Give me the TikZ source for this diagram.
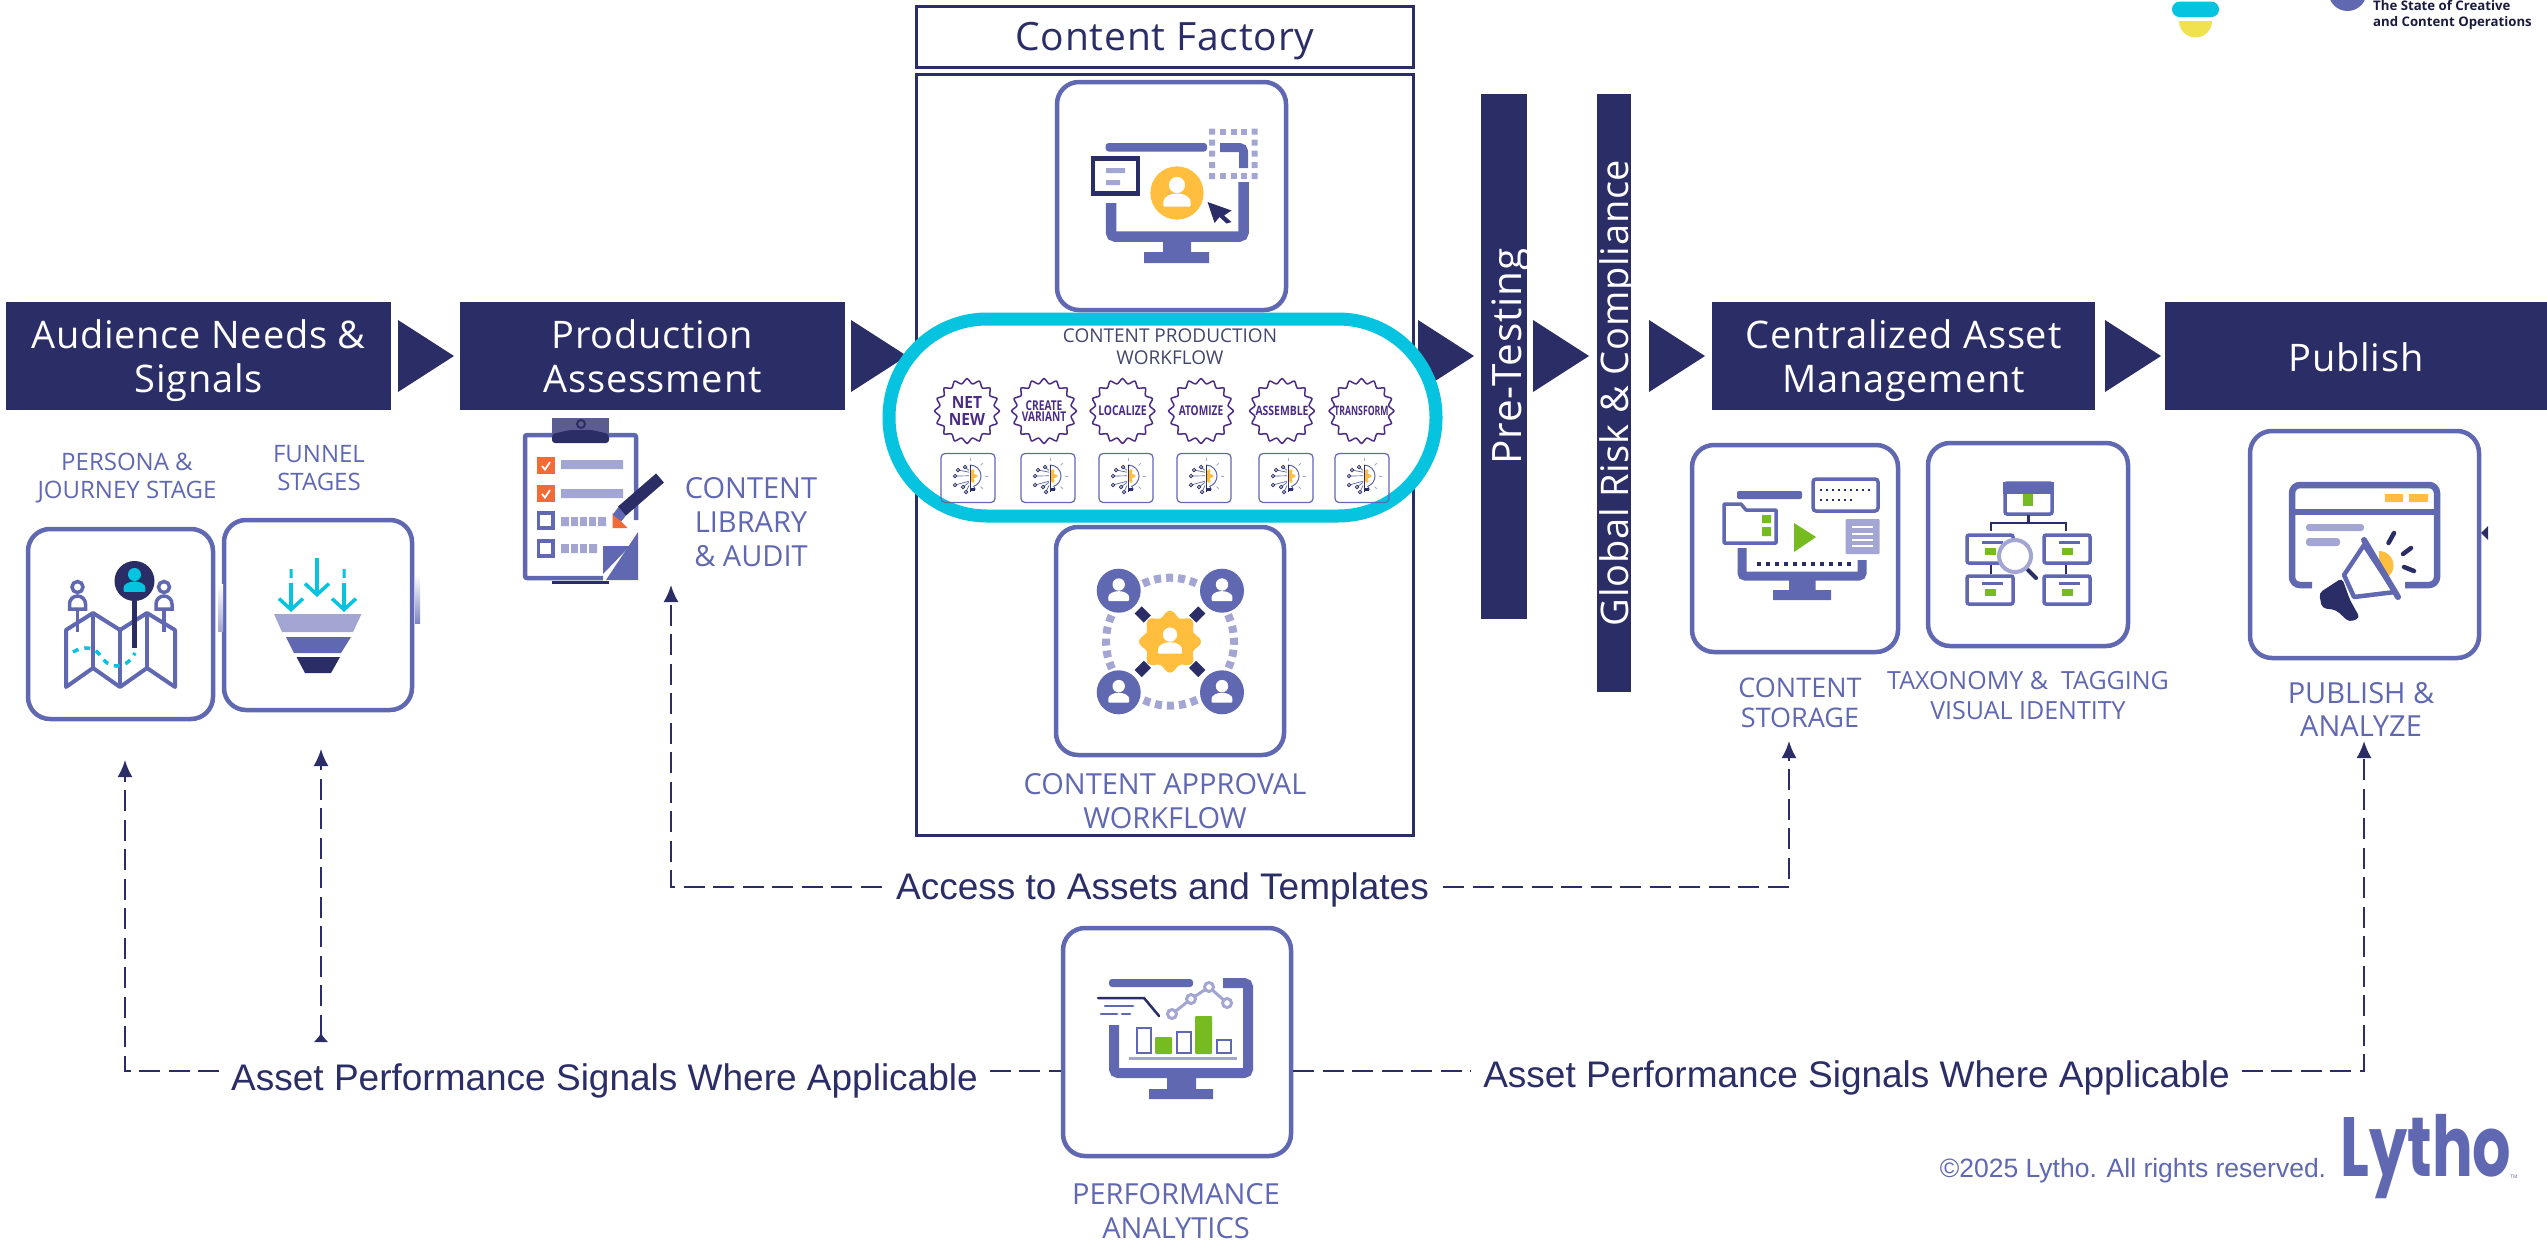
\documentclass[tikz,border=0pt]{standalone}
\usepackage{fontspec}
\usepackage{tikz}
\usetikzlibrary{arrows.meta}
\setmainfont{Open Sans}
\newfontfamily\workfont{Open Sans}[LetterSpace=2]
\newfontfamily\arialfont{Liberation Sans}
\newfontfamily\logofont{Poppins}

\definecolor{navybar}{HTML}{2B2D66}
\definecolor{indigoline}{HTML}{6068B2}
\definecolor{lightline}{HTML}{A3A6D3}
\definecolor{cyanring}{HTML}{06C3DF}
\definecolor{goldfill}{HTML}{FFBE3D}
\definecolor{greenfill}{HTML}{76BC21}
\definecolor{orangefill}{HTML}{F26A36}
\definecolor{yellowfill}{HTML}{F0E14E}
\definecolor{badgeink}{HTML}{4A2C86}

\tikzset{
  stagebox/.style={fill=navybar,text=white,inner sep=0,align=center,font=\workfont\fontsize{38}{44}\selectfont},
  twoline/.style={text height=76pt,text depth=4pt},
  oneline/.style={text height=30pt,text depth=0pt},
  iconbox/.style={draw=indigoline,line width=4.5,rounded corners=22,inner sep=0},
  framebox/.style={draw=navybar,line width=2.5,inner sep=0},
  iconlabel/.style 2 args={text=indigoline,inner sep=0,align=center,font=\fontsize{#1}{#2}\selectfont},
  signaltext/.style={text=navybar,inner sep=0,text height=30pt,text depth=4pt,font=\arialfont\fontsize{37}{44}\selectfont},
  flowdash/.style={draw=navybar,line width=2,dash pattern=on 21 off 8.5},
  flowtip/.style={-{Latex[length=17,width=15]}},
  badgetext/.style 2 args={text=badgeink,inner sep=0,align=center,transform shape,font=\bfseries\fontsize{#1}{#2}\selectfont},
  minibox/.style={draw=indigoline,line width=1.2,rounded corners=4,minimum width=54,minimum height=49,inner sep=0},
}

% person on a disc
\newcommand{\userglyph}[4]{
  \begin{scope}[shift={(#1,#2)},scale=#3]
    \fill[#4] (0,-.31) circle (.31);
    \fill[#4,rounded corners=1] (-.52,.52) -- (-.52,.36) arc[start angle=180,end angle=360,x radius=.52,y radius=.34] -- (.52,.52) -- cycle;
  \end{scope}
}
% lightbulb with circuit dots
\newcommand{\bulbglyph}[2]{
  \begin{scope}[shift={(#1,#2)}]
    \fill[goldfill] plot[smooth,domain=-90:90,samples=25,variable=\t] ({(6+1.6*cos(6*\t))*cos(\t)+2},{(6+1.6*cos(6*\t))*sin(\t)-2});
    \draw[indigoline,line width=1] (2,-13) arc[start angle=-90,end angle=70,radius=11] -- (7,11) -- (2,11);
    \draw[navybar,line width=1] (2,-13) -- (2,14);
    \fill[navybar] (2,10) rectangle (7,13);
    \foreach \dx/\dy in {-3/-11,-10/-8,-13/-2,-13/7,-5/9,-2/14} {
      \draw[indigoline,line width=.7] (\dx,\dy) -- (1,{\dy*.6-1});
      \draw[navybar,line width=.8,fill=white] (\dx,\dy) circle (1.7);
    }
    \foreach \a in {-90,-45,0,45} \draw[lightline,line width=1] ({2+15*cos(\a)},{-2+15*sin(\a)}) -- ({2+18*cos(\a)},{-2+18*sin(\a)});
  \end{scope}
}

\begin{document}
\begin{tikzpicture}[x=1pt,y=-1pt]
    \path[use as bounding box,fill=white] (0,0) rectangle (2547,1242);

    % draw stage bars
    \node[stagebox,twoline,minimum width=385,minimum height=108] (audience) at (198.5,356) {Audience Needs \&\\Signals};
    \node[stagebox,twoline,minimum width=385,minimum height=108] (production) at (652.5,356) {Production\\Assessment};
    \node[stagebox,twoline,minimum width=383,minimum height=108] (central) at (1903.5,356) {Centralized Asset\\Management};
    \node[stagebox,oneline,minimum width=382,minimum height=108] (publish) at (2356,356) {Publish};
    \node[stagebox,rotate=90,text height=34pt,text depth=0pt,minimum width=525,minimum height=46,font=\workfont\fontsize{40.5}{44}\selectfont] (pretest) at (1504,356.5) {Pre-Testing};
    \node[stagebox,rotate=90,text height=29pt,text depth=0pt,minimum width=598,minimum height=34] (globalrisk) at (1614,393) {Global Risk \& Compliance};

    % draw stage arrows
    \foreach \x in {398,851,1418,1533,1649,2105}
      \fill[navybar] (\x,320) -- (\x+56,356) -- (\x,392) -- cycle;

    % draw content factory frames
    \node[framebox,minimum width=497,minimum height=61,text=navybar,text height=30pt,text depth=4pt,font=\workfont\fontsize{39}{44}\selectfont] (factory) at (1165,37) {Content Factory};
    \node[framebox,minimum width=497,minimum height=761] (frame) at (1165,455) {};

    % draw workflow ring
    \draw[cyanring,line width=13,fill=white,rounded corners=98] (889,319) rectangle (1436,516);
    \node[text=navybar!70!gray,inner sep=0,align=center,font=\fontsize{19}{22}\selectfont] (workflow) at (1170,347) {CONTENT PRODUCTION\\WORKFLOW};

    % draw badges and small bulb boxes
    \foreach \i/\bx/\mx/\bsize/\bskip/\bscale/\btext in {1/967/968/16.8/17/.92/{NET\\NEW},2/1044/1048/13.5/11.5/.75/{CREATE\\VARIANT},3/1122.5/1126/13.5/14/.76/LOCALIZE,4/1201/1204/13.5/14/.75/ATOMIZE,5/1282/1286/13/14/.8/ASSEMBLE,6/1361.5/1362/13/14/.67/TRANSFORM} {
      \draw[badgeink,line width=1.5,shift={(\bx,411)}] plot[smooth cycle,domain=0:348.75,samples=32,variable=\t] ({(30+2.4*cos(16*\t))*cos(\t)},{(30+2.4*cos(16*\t))*sin(\t)});
      \begin{scope}[shift={(\bx,411)},xscale=\bscale]
        \node[badgetext={\bsize}{\bskip}] (badge\i) at (0,0) {\btext};
      \end{scope}
      \node[minibox] (mini\i) at (\mx,478) {};
      \bulbglyph{\mx}{478}
    }

    % draw icon boxes
    \node[iconbox,minimum width=185,minimum height=190] (personabox) at (120.5,624) {};
    \node[iconbox,minimum width=188,minimum height=190] (funnelbox) at (318,615) {};
    \node[iconbox,minimum width=229,minimum height=228] (createbox) at (1171.5,196) {};
    \node[iconbox,minimum width=228,minimum height=228] (approvalbox) at (1170,641) {};
    \node[iconbox,minimum width=228,minimum height=228] (analyticsbox) at (1177,1042) {};
    \node[iconbox,minimum width=206,minimum height=207] (storagebox) at (1795,548.5) {};
    \node[iconbox,minimum width=200,minimum height=203] (taxonomybox) at (2028,544.5) {};
    \node[iconbox,minimum width=229,minimum height=227] (publishbox) at (2364.5,544.5) {};
    \shade[top color=white,bottom color=lightline] (218,584) rectangle (223,631);
    \shade[top color=white,bottom color=indigoline!80] (415,575) rectangle (420,623);
    \fill[navybar] (2488,526) -- (2481,533) -- (2488,540) -- cycle;

    % draw labels
    \node[iconlabel={24}{28}] (personalabel) at (127,478) {PERSONA \&\\JOURNEY STAGE};
    \node[iconlabel={24}{28}] (funnellabel) at (319,468) {FUNNEL\\STAGES};
    \node[iconlabel={29}{34}] (librarylabel) at (751,522) {CONTENT\\LIBRARY\\\& AUDIT};
    \node[iconlabel={29}{34}] (approvallabel) at (1165,801) {CONTENT APPROVAL\\WORKFLOW};
    \node[iconlabel={29}{34}] (analyticslabel) at (1176,1211) {PERFORMANCE\\ANALYTICS};
    \node[iconlabel={27}{30}] (storagelabel) at (1800,703) {CONTENT\\STORAGE};
    \node[iconlabel={25}{30}] (taxonomylabel) at (2028,696) {TAXONOMY \&\ \ TAGGING\\VISUAL IDENTITY};
    \node[iconlabel={29}{33}] (publishlabel) at (2361,709) {PUBLISH \&\\ANALYZE};

    % draw persona map icon
    \draw[indigoline,line width=4,line join=round] (66,630) -- (93,613) -- (120,630) -- (147,613) -- (175,630) -- (175,687) -- (147,668) -- (120,687) -- (93,668) -- (66,687) -- cycle;
    \draw[indigoline,line width=4] (93,613) -- (93,668) (120,630) -- (120,687) (147,613) -- (147,668);
    \draw[cyanring,line width=3.5,dash pattern=on 6 off 6] (73,652) .. controls (85,645) and (95,648) .. (100,655) .. controls (107,668) and (125,672) .. (135,653);
    \draw[navybar,line width=5] (134.5,590) -- (134.5,648);
    \fill[navybar] (134.5,581) circle (20);
    \userglyph{134.5}{581}{21}{cyanring}
    \foreach \x in {77.5,164} {
      \draw[indigoline,line width=3.5] (\x,587) circle (5.5);
      \draw[indigoline,line width=3.5] (\x-8,609) -- (\x-8,604) arc[start angle=180,end angle=360,radius=8] -- (\x+8,609) -- cycle;
      \draw[indigoline,line width=3.5] (\x,609) -- (\x,632);
    }

    % draw funnel icon
    \foreach \x/\a/\b in {291/583/612,317/558/597,344/583/612}
      \draw[cyanring,line width=3.5,-{Straight Barb[length=11,width=24]}] (\x,\a) -- (\x,\b);
    \fill[cyanring] (289.5,569) rectangle (292.5,578) (342.5,569) rectangle (345.5,578);
    \fill[lightline] (274,614) -- (361.5,614) -- (353,632) -- (282,632) -- cycle;
    \fill[indigoline] (286,637) -- (351,637) -- (341,653) -- (294,653) -- cycle;
    \fill[navybar] (296.5,657) -- (340,657) -- (331,673) -- (305,673) -- cycle;

    % draw clipboard icon
    \draw[indigoline,line width=4.5,rounded corners=2] (552,435) -- (525,435) -- (525,578) -- (603,578);
    \draw[indigoline,line width=4.5,rounded corners=2] (609,435) -- (636,435) -- (636,520);
    \fill[navybar!60!lightline] (552,418) rectangle (609,436);
    \fill[navybar,rounded corners=3] (552,443) -- (552,434) -- (570,430) -- (592,430) -- (609,434) -- (609,443) -- cycle;
    \draw[navybar,line width=2] (581,424) circle (4);
    \fill[navybar] (552,581) rectangle (609,584);
    \foreach \y in {457,485}
      \fill[orangefill] (537,\y) rectangle (554.5,\y+17);
    \foreach \y in {457,485}
      \draw[white,line width=1.8] (542,\y+9) -- (545,\y+12.5) -- (550,\y+5);
    \foreach \y in {513,541}
      \draw[indigoline,line width=3.5] (538.5,\y) rectangle (553,\y+15);
    \fill[lightline] (561,460) rectangle (623,469) (561,489) rectangle (623,498);
    \fill[lightline] (561,517) rectangle (606,526) (561,544) rectangle (597,553);
    \foreach \x in {569,578,587,596}
      \fill[white] (\x,517) rectangle (\x+1.5,526);
    \foreach \x in {569,578,587}
      \fill[white] (\x,544) rectangle (\x+1.5,553);
    \fill[indigoline] (603,546) -- (630,546) -- (603,574) -- cycle;
    \fill[indigoline] (638,532) -- (638,580) -- (606,580) -- cycle;
    \fill[orangefill] (612.5,513) -- (627.5,528) -- (612.5,528) -- cycle;
    \draw[indigoline,line width=11] (617,518) -- (624,509);
    \draw[navybar,line width=12,line join=round] (622,511) -- (660,478);

    % draw create icon
    \fill[indigoline,rounded corners=3] (1105.7,143) rectangle (1207,151.5);
    \draw[indigoline,line width=10.5,rounded corners=4] (1111,203) -- (1111,236.5) -- (1243.5,236.5) -- (1243.5,182);
    \draw[indigoline,line width=9,rounded corners=4] (1220,147.5) -- (1243.5,147.5) -- (1243.5,168);
    \fill[indigoline] (1163,240) rectangle (1191,252) (1144,252) rectangle (1209,263);
    \foreach \y in {131.5,142.5,153.5,165,176}
      \fill[lightline] (1209,\y-3) rectangle (1215,\y+3) (1251.5,\y-3) rectangle (1257.5,\y+3);
    \foreach \x in {1223,1234,1244} \foreach \y in {131.5,176}
      \fill[lightline] (\x-3,\y-3) rectangle (\x+3,\y+3);
    \draw[navybar,line width=4.5,fill=white] (1093,158.5) rectangle (1138,193.5);
    \fill[lightline] (1106,168) rectangle (1125,173) (1106,180) rectangle (1120,185);
    \fill[goldfill] (1177,193) circle (26.6);
    \userglyph{1177}{193}{26}{white}
    \fill[navybar] (1207.5,202) -- (1231.5,210.5) -- (1224,215.5) -- (1231.5,222) -- (1226.5,223.5) -- (1219.5,217) -- (1214.5,223) -- cycle;

    % draw approval icon
    \foreach \a in {0,90,180,270}
      \draw[lightline,line width=8,dash pattern=on 7 off 5] (1170,641.7) ++(\a-25:64) arc[start angle=\a-25,end angle=\a+25,radius=64];
    \foreach \a in {45,135,225,315}
      \draw[navybar,line width=10] (1170,641.7) ++(\a:32) -- ++(\a:13);
    \foreach \x in {1118.7,1222} \foreach \y in {590.7,692.3} {
      \fill[indigoline] (\x,\y) circle (22);
      \userglyph{\x}{\y}{20}{white}
    }
    \fill[goldfill,shift={(1170,641.7)}] plot[smooth cycle,domain=0:352.5,samples=48,variable=\t] ({(28+3*cos(8*\t))*cos(\t)},{(28+3*cos(8*\t))*sin(\t)});
    \userglyph{1170}{641.7}{23}{white}

    % draw analytics icon
    \fill[indigoline,rounded corners=3] (1109,979) rectangle (1193,987);
    \draw[indigoline,line width=10,rounded corners=4] (1223,983) -- (1248,983) -- (1248,1073) -- (1114,1073) -- (1114,1025);
    \fill[indigoline] (1167,1077) rectangle (1196,1090) (1149,1089) rectangle (1213,1099);
    \draw[navybar,line width=2.5,line cap=round] (1098,998) -- (1144,998) -- (1159,1016);
    \draw[indigoline,line width=2.5,line cap=round] (1105,1006) -- (1133,1006) (1101,1014) -- (1117,1014) (1122,1014) -- (1130,1014);
    \draw[lightline,line width=3] (1172,1014) -- (1191,999) -- (1209,987) -- (1227,1003);
    \foreach \x/\y in {1172/1014,1191/999,1209/987,1227/1003}
      \draw[lightline,line width=3,fill=white] (\x,\y) circle (4.5);
    \foreach \xa/\xb/\y in {1136/1152/1028,1176/1192/1032,1216/1232/1040}
      \draw[indigoline,line width=2.5] (\xa+1,\y) rectangle (\xb-1,1053);
    \fill[greenfill,rounded corners=1] (1155,1037) rectangle (1172,1054) (1195,1016) rectangle (1212,1054);
    \fill[lightline] (1129,1056.5) rectangle (1237,1060);

    % draw storage icon
    \fill[indigoline,rounded corners=2] (1737,491) rectangle (1802,499);
    \draw[indigoline,line width=9,rounded corners=3] (1742,548) -- (1742,576) -- (1862,576) -- (1862,560);
    \fill[indigoline] (1789,580) rectangle (1815.5,591) (1773,590) rectangle (1831,600);
    \draw[indigoline,line width=3.5,line join=round] (1724,543) -- (1724,504) -- (1741,504) -- (1746,510) -- (1776,510) -- (1776,543) -- cycle;
    \fill[greenfill] (1762,515) rectangle (1771,523) (1762,527) rectangle (1771,536);
    \fill[greenfill] (1794,523) -- (1816,537) -- (1794,552) -- cycle;
    \draw[indigoline,line width=3.5,rounded corners=3,fill=white] (1813,479) rectangle (1878,511);
    \foreach \x in {1820,1826,...,1868}
      \fill[navybar] (\x,488.5) rectangle (\x+2,491);
    \foreach \x in {1820,1826,...,1850}
      \fill[navybar] (\x,498.5) rectangle (\x+2,501);
    \fill[lightline,rounded corners=1] (1845.5,519) rectangle (1879.5,554);
    \foreach \y in {527,533.5,540,546}
      \draw[white,line width=2] (1852,\y) -- (1873,\y);
    \foreach \x in {1757,1766,...,1850}
      \fill[navybar] (\x,561.5) rectangle (\x+4,565.5);

    % draw taxonomy icon
    \draw[indigoline,line width=3.5,rounded corners=2] (2005,483) rectangle (2052,514);
    \fill[indigoline] (2003,482) rectangle (2054,494);
    \fill[greenfill] (2023,494) rectangle (2033,506);
    \draw[navybar,line width=2.5] (2028.5,515) -- (2028.5,523) (1991,531) -- (1991,523) -- (2066,523) -- (2066,531);
    \draw[navybar,line width=2.5] (1991,564) -- (1991,574) (2066,564) -- (2066,574);
    \foreach \x in {1967,2044} \foreach \y in {535,576} {
      \draw[indigoline,line width=3.5,rounded corners=2] (\x,\y) rectangle (\x+46,\y+28);
      \fill[indigoline] (\x+15,\y+6) rectangle (\x+36,\y+8.5);
      \fill[greenfill] (\x+18,\y+13) rectangle (\x+29,\y+20);
    }
    \draw[navybar,line width=4,line cap=round] (2028,570) -- (2036,578);
    \draw[lightline,line width=4,fill=white] (2015,556) circle (16);

    % draw publish icon
    \draw[indigoline,line width=6.5,rounded corners=8] (2312,585) -- (2292,585) -- (2292,485) -- (2437,485) -- (2437,585) -- (2405,585);
    \draw[indigoline,line width=6.5] (2292,512) -- (2437,512);
    \fill[goldfill] (2385,494) rectangle (2403,502) (2409,494) rectangle (2428,502);
    \fill[lightline,rounded corners=3] (2306,524) rectangle (2364,531) (2306,538) rectangle (2340,546);
    \fill[goldfill] (2379,551) arc[start angle=-90,end angle=90,radius=14.5] -- cycle;
    \draw[indigoline,line width=4.5,line join=round,fill=white] (2364,545) -- (2344,575) -- (2354,597) -- (2395,592) -- cycle;
    \draw[indigoline,line width=6,line cap=round] (2364,540) -- (2398,597);
    \fill[navybar,rounded corners=4] (2342,578) -- (2319,593) -- (2322,608) -- (2336,610) -- (2349,622) -- (2360,618) -- (2350,600) -- cycle;
    \draw[navybar,line width=4.5,line cap=round] (2394,533) -- (2388.5,543) (2411,548) -- (2403,554) (2404,567) -- (2414,571);

    % draw routes
    \node[signaltext] (accesstext) at (1162.5,886) {Access to Assets and Templates};
    \node[signaltext] (signalleft) at (604.5,1077) {Asset Performance Signals Where Applicable};
    \node[signaltext] (signalright) at (1856.5,1074) {Asset Performance Signals Where Applicable};
    \coordinate (personatip) at (125,760);
    \coordinate (funneltip) at (321,749);
    \coordinate (funnelfoot) at (321,1042);
    \coordinate (librarytip) at (671,585);
    \coordinate (storagetip) at (1789,741);
    \coordinate (publishtip) at (2364,741);
    \coordinate (accessrow) at (0,887);
    \coordinate (signalrow) at (0,1071);
    \draw[flowdash,flowtip] ([xshift=-12pt]signalleft.west |- signalrow) -| (personatip);
    \draw[flowdash] ([xshift=12pt]signalleft.east |- signalrow) -- (analyticsbox.west |- signalrow);
    \draw[flowdash,{Latex[reversed,length=9,width=15]}-{Latex[length=17,width=15]}] (funnelfoot) -- (funneltip);
    \draw[flowdash,flowtip] ([xshift=-14pt]accesstext.west |- accessrow) -| (librarytip);
    \draw[flowdash,flowtip] ([xshift=14pt]accesstext.east |- accessrow) -| (storagetip);
    \draw[flowdash] (analyticsbox.east |- signalrow) -- ([xshift=-12pt]signalright.west |- signalrow);
    \draw[flowdash,flowtip] ([xshift=12pt]signalright.east |- signalrow) -| (publishtip);

    % draw footer and logos
    \node[text=indigoline,inner sep=0,font=\arialfont\fontsize{26.5}{30}\selectfont] (rights) at (2133,1171) {\textcopyright 2025 Lytho. All rights reserved.};
    \node[text=indigoline,inner sep=0,font=\logofont\bfseries\fontsize{84}{84}\selectfont] (lytho) at (2426,1157) {\scalebox{.72}[1]{Lytho}};
    \node[text=indigoline,inner sep=0,font=\fontsize{5}{6}\selectfont] (lythotm) at (2514,1177) {TM};
    \fill[cyanring,rounded corners=7.5] (2172,1.7) rectangle (2219,17);
    \fill[yellowfill] (2179,21) -- (2212,21) arc[start angle=0,end angle=180,radius=16.5] -- cycle;
    \fill[indigoline] (2347.5,-8) circle (19);
    \node[anchor=north west,inner sep=0,align=left,text=navybar!60!black,font=\fontsize{13.2}{16}\selectfont\bfseries] (reporttitle) at (2373,0) {The State of Creative\\and Content Operations};
\end{tikzpicture}
\end{document}
